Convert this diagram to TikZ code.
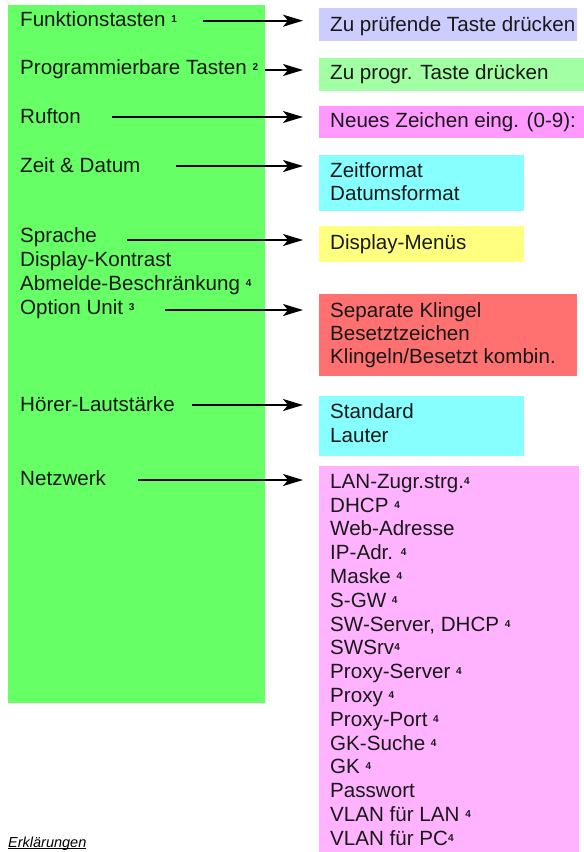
\documentclass[tikz,border=0pt]{standalone}
\usepackage{fontspec}
\setmainfont{Liberation Sans}
\usetikzlibrary{arrows.meta}
\definecolor{mgreen}{HTML}{66FF66}
\definecolor{blav}{HTML}{CCCCFF}
\definecolor{blgreen}{HTML}{A3FFA3}
\definecolor{bpink}{HTML}{FF99FF}
\definecolor{bcyan}{HTML}{88FFFF}
\definecolor{byellow}{HTML}{FFFF80}
\definecolor{bred}{HTML}{FF7070}
\definecolor{blpink}{HTML}{FFB3FF}
\newcommand\supn[1]{\raisebox{4pt}{\fontsize{10}{10}\selectfont\bfseries #1}}
\newcommand\ulthick[1]{{\setbox0\hbox{#1}\rlap{\rule[-1.8pt]{\wd0}{0.9pt}}\box0}}
\begin{document}
\begin{tikzpicture}[x=1pt,y=-1pt,
  txt/.style={anchor=base west,inner sep=0pt,font=\fontsize{20.6}{24}\selectfont,text=black!90},
  boxshape/.style={anchor=north west,inner sep=0pt,draw=none},
  arr/.style={line width=1.8pt,-{Stealth[length=20pt,width=12pt,inset=5pt]},shorten >=16pt}]
\useasboundingbox (0,0) rectangle (584,852);
% main green panel
\node[boxshape,fill=mgreen,minimum width=257pt,minimum height=698pt] (panel) at (8,5) {};
% right boxes
\node[boxshape,fill=blav,minimum width=258pt,minimum height=33pt] (b1) at (319,8) {};
\node[boxshape,fill=blgreen,minimum width=265pt,minimum height=33pt] (b2) at (319,58) {};
\node[boxshape,fill=bpink,minimum width=265pt,minimum height=32pt] (b3) at (319,106) {};
\node[boxshape,fill=bcyan,minimum width=205pt,minimum height=56pt] (b4) at (319,155) {};
\node[boxshape,fill=byellow,minimum width=205pt,minimum height=36pt] (b5) at (319,226) {};
\node[boxshape,fill=bred,minimum width=258pt,minimum height=82pt] (b6) at (319,294) {};
\node[boxshape,fill=bcyan,minimum width=205pt,minimum height=60pt] (b7) at (319,396) {};
\node[boxshape,fill=blpink,minimum width=260pt,minimum height=386pt] (b8) at (319,466) {};
% left texts
\node[txt] (l1) at (20,26) {Funktionstasten \supn{1}};
\node[txt] (l2) at (20,74) {Programmierbare Tasten \supn{2}};
\node[txt] (l3) at (20,123) {Rufton};
\node[txt] (l4) at (20,172) {Zeit \& Datum};
\node[txt] (l5) at (20,242) {Sprache};
\node[txt] (l6) at (20,266) {Display-Kontrast};
\node[txt] (l7) at (20,290) {Abmelde-Beschränkung \supn{4}};
\node[txt] (l8) at (20,314) {Option Unit \supn{3}};
\node[txt] (l9) at (20,411) {Hörer-Lautstärke};
\node[txt] (l10) at (20,485) {Netzwerk};
% right texts
\node[txt] (r1) at (330,31) {Zu prüfende Taste drücken};
\node[txt] (r2) at (330,79) {Zu progr. Taste drücken};
\node[txt] (r3) at (330,127) {Neues Zeichen eing. (0-9):};
\node[txt] (r4a) at (330,177) {Zeitformat};
\node[txt] (r4b) at (330,200) {Datumsformat};
\node[txt] (r5) at (330,249) {Display-Menüs};
\node[txt] (r6a) at (330,317) {Separate Klingel};
\node[txt] (r6b) at (330,340) {Besetztzeichen};
\node[txt] (r6c) at (330,363) {Klingeln/Besetzt kombin.};
\node[txt] (r7a) at (330,418) {Standard};
\node[txt] (r7b) at (330,442) {Lauter};
\foreach \t [count=\i] in {{LAN-Zugr.strg.\supn{4}},{DHCP \supn{4}},{Web-Adresse},{IP-Adr. \supn{4}},{Maske \supn{4}},{S-GW \supn{4}},{SW-Server, DHCP \supn{4}},{SWSrv\supn{4}},{Proxy-Server \supn{4}},{Proxy \supn{4}},{Proxy-Port \supn{4}},{GK-Suche \supn{4}},{GK \supn{4}},{Passwort},{VLAN für LAN \supn{4}},{VLAN für PC\supn{4}}}
  \node[txt] (n\i) at (330,{488.3+23.8*(\i-1)}) {\t};
% arrow start points
\coordinate (s1) at (203,20.7);
\coordinate (s2) at (265,70);
\coordinate (s3) at (112,117);
\coordinate (s4) at (176,166);
\coordinate (s5) at (127,240);
\coordinate (s8) at (165,310);
\coordinate (s9) at (192,405);
\coordinate (s10) at (138,480);
\draw[arr] (s1) -- (s1 -| b1.west);
\draw[arr] (s2) -- (s2 -| b2.west);
\draw[arr] (s3) -- (s3 -| b3.west);
\draw[arr] (s4) -- (s4 -| b4.west);
\draw[arr] (s5) -- (s5 -| b5.west);
\draw[arr] (s8) -- (s8 -| b6.west);
\draw[arr] (s9) -- (s9 -| b7.west);
\draw[arr] (s10) -- (s10 -| b8.west);
% footer
\node[anchor=base west,inner sep=0pt,font=\fontsize{14.5}{16}\selectfont\itshape] (foot) at (8,847) {\ulthick{Erklärungen}};
\end{tikzpicture}
\end{document}
